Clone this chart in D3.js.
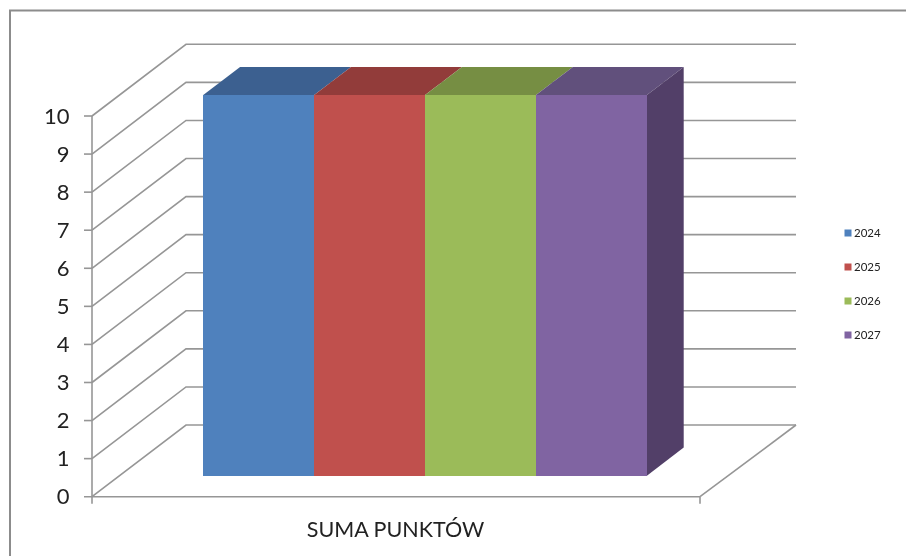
<!DOCTYPE html>
<html>
<head>
<meta charset="utf-8">
<script src="https://cdn.jsdelivr.net/npm/d3@7"></script>
<style>
  html, body { margin: 0; padding: 0; background: #fff; overflow: hidden; }
  svg { display: block; filter: blur(0.45px); }
  text { font-family: Lato, "Open Sans", sans-serif; fill: #222; }
</style>
</head>
<body>
<script>
const WIDTH = 906;
const HEIGHT = 556;

const categoryLabel = 'SUMA PUNKTÓW';
const years = ['2024', '2025', '2026', '2027'];
const points = [10, 10, 10, 10];
const yTicks = [0, 1, 2, 3, 4, 5, 6, 7, 8, 9, 10];
const frontColors = ['#4f81bd', '#c0504d', '#9bbb59', '#8064a2'];
const topColors = ['#3c6090', '#923c3a', '#768e43', '#61507c'];
const sideColors = ['#2f4b70', '#722f2d', '#5c6f35', '#523f68'];

const GRID = '#969696';

// front plane of the chart
const y = d3.scaleLinear().domain([0, 10]).range([496.7, 116]);
const x = d3.scaleBand().domain(years).range([92.5, 702.5]).paddingInner(0).paddingOuter(0.75);

// depth goes up and to the right, 0 = front wall, 1 = back wall
const depthX = d3.scaleLinear().domain([0, 1]).range([0, 94]);
const depthY = d3.scaleLinear().domain([0, 1]).range([0, -71.7]);
const barFront = 0.29;
const barBack = 0.685;

function pt(px, value, depth) {
  return [px + depthX(depth), y(value) + depthY(depth)];
}

const line = d3.line();

const svg = d3.select('body')
  .append('svg')
  .attr('width', WIDTH)
  .attr('height', HEIGHT);

// outer frame, only top and left show in the crop
svg.append('path')
  .attr('d', line([[10, HEIGHT], [10, 10.5], [WIDTH, 10.5]]))
  .attr('fill', 'none')
  .attr('stroke', '#8c8c8c')
  .attr('stroke-width', 2);

// gridlines, left wall + back wall
svg.append('g')
  .selectAll('path')
  .data(yTicks)
  .enter()
  .append('path')
  .attr('d', d => line([pt(92, d, 0), pt(92, d, 1), pt(702, d, 1)]))
  .attr('fill', 'none')
  .attr('stroke', GRID)
  .attr('stroke-width', 1.6);

// floor right edge
svg.append('path')
  .attr('d', line([pt(702, 0, 1), pt(700, 0, 0)]))
  .attr('fill', 'none')
  .attr('stroke', GRID)
  .attr('stroke-width', 1.6);

// axes
const axisG = svg.append('g')
  .attr('stroke', GRID)
  .attr('stroke-width', 1.6);
axisG.append('line')
  .attr('x1', 92).attr('x2', 92)
  .attr('y1', y(10)).attr('y2', y(0) + 7);
axisG.append('line')
  .attr('x1', 84).attr('x2', 700)
  .attr('y1', y(0)).attr('y2', y(0));
axisG.append('line')
  .attr('x1', 700).attr('x2', 700)
  .attr('y1', y(0)).attr('y2', y(0) + 7);
axisG.selectAll('.tick')
  .data(yTicks.slice(1))
  .enter()
  .append('line')
  .attr('x1', 84).attr('x2', 92)
  .attr('y1', d => y(d)).attr('y2', d => y(d));

svg.append('g')
  .selectAll('text')
  .data(yTicks)
  .enter()
  .append('text')
  .attr('x', 69.5)
  .attr('y', d => y(d))
  .attr('dy', '0.35em')
  .attr('text-anchor', 'end')
  .attr('font-size', 22)
  .text(d => d);

// bars
const bars = svg.append('g')
  .selectAll('g')
  .data(years)
  .enter()
  .append('g');

bars.append('path')
  .attr('d', (d, i) => {
    const x0 = x(d), x1 = x0 + x.bandwidth();
    return line([pt(x0, points[i], barFront), pt(x0, points[i], barBack), pt(x1, points[i], barBack), pt(x1, points[i], barFront)]) + 'Z';
  })
  .attr('fill', (d, i) => topColors[i]);

// only the last bar shows its side
bars.filter((d, i) => i === years.length - 1)
  .append('path')
  .attr('d', d => {
    const i = years.indexOf(d);
    const x1 = x(d) + x.bandwidth();
    return line([pt(x1, 0, barFront), pt(x1, 0, barBack), pt(x1, points[i], barBack), pt(x1, points[i], barFront)]) + 'Z';
  })
  .attr('fill', d => sideColors[years.indexOf(d)]);

bars.append('path')
  .attr('d', (d, i) => {
    const x0 = x(d), x1 = x0 + x.bandwidth();
    return line([pt(x0, 0, barFront), pt(x0, points[i], barFront), pt(x1, points[i], barFront), pt(x1, 0, barFront)]) + 'Z';
  })
  .attr('fill', (d, i) => frontColors[i])
  .attr('shape-rendering', 'crispEdges');

// category label
svg.append('text')
  .attr('x', 395.5)
  .attr('y', 536.5)
  .attr('text-anchor', 'middle')
  .attr('font-size', 21.5)
  .text(categoryLabel);

// legend
const legendY = d3.scalePoint().domain(years).range([233, 335]);
const legend = svg.append('g')
  .selectAll('g')
  .data(years)
  .enter()
  .append('g')
  .attr('transform', d => 'translate(844.5,' + legendY(d) + ')');
legend.append('rect')
  .attr('x', 0).attr('y', -3.5)
  .attr('width', 7).attr('height', 7)
  .attr('fill', (d, i) => frontColors[i]);
legend.append('text')
  .attr('x', 9.5)
  .attr('dy', '0.35em')
  .attr('font-size', 11.5)
  .text(d => d);
</script>
</body>
</html>
